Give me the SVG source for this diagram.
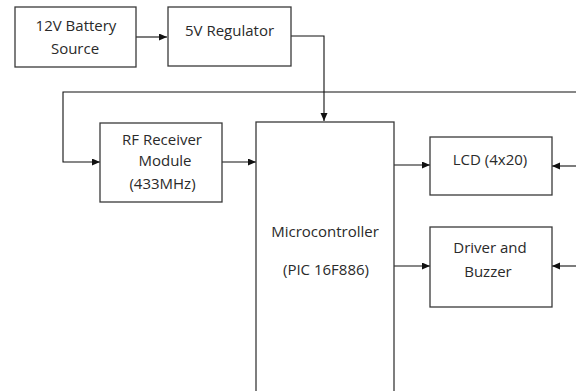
<svg xmlns="http://www.w3.org/2000/svg" width="576" height="391" viewBox="0 0 576 391">
<defs>
<style>
.box{fill:#fff;stroke:#3a3a3a;stroke-width:1.3}
.lbl{font-family:"Open Sans","Liberation Sans",sans-serif;font-size:15px;fill:#2a2a2a;text-anchor:middle}
.con{fill:none;stroke:#111;stroke-width:1.1}
</style>
<marker id="ah" markerUnits="userSpaceOnUse" markerWidth="9" markerHeight="8" refX="8" refY="3.5" orient="auto">
<path d="M0,0 L8,3.5 L0,7 z" fill="#111"/>
</marker>
</defs>
<rect width="576" height="391" fill="#fff"/>
<g id="connectors">
<path class="con" d="M136,37 H167" marker-end="url(#ah)"/>
<path class="con" d="M291,36 H324 V121" marker-end="url(#ah)"/>
<path class="con" d="M576,92 H63 V162 H100" stroke="#555" marker-end="url(#ah)"/>
<path class="con" d="M222,162 H256" marker-end="url(#ah)"/>
<path class="con" d="M394,165 H430" marker-end="url(#ah)"/>
<path class="con" d="M394,266 H430" marker-end="url(#ah)"/>
<path class="con" d="M576,166 H552" marker-end="url(#ah)"/>
<path class="con" d="M576,266 H552" marker-end="url(#ah)"/>
</g>
<g id="battery">
<rect class="box" x="15" y="7" width="121" height="60"/>
<text class="lbl" x="76" y="31">12V Battery</text>
<text class="lbl" x="75" y="54">Source</text>
</g>
<g id="regulator">
<rect class="box" x="168" y="7" width="123" height="59"/>
<text class="lbl" x="229.5" y="36">5V Regulator</text>
</g>
<g id="rf">
<rect class="box" x="100" y="123" width="122" height="79"/>
<text class="lbl" x="162" y="145">RF Receiver</text>
<text class="lbl" x="165" y="166">Module</text>
<text class="lbl" x="162.5" y="189">(433MHz)</text>
</g>
<g id="micro">
<rect class="box" x="256" y="122" width="138" height="280"/>
<text class="lbl" x="325" y="237">Microcontroller</text>
<text class="lbl" x="326" y="275">(PIC 16F886)</text>
</g>
<g id="lcd">
<rect class="box" x="430" y="137" width="122" height="58"/>
<text class="lbl" x="490" y="165">LCD (4x20)</text>
</g>
<g id="driver">
<rect class="box" x="430" y="227" width="122" height="80"/>
<text class="lbl" x="490" y="253">Driver and</text>
<text class="lbl" x="488" y="277">Buzzer</text>
</g>
</svg>
